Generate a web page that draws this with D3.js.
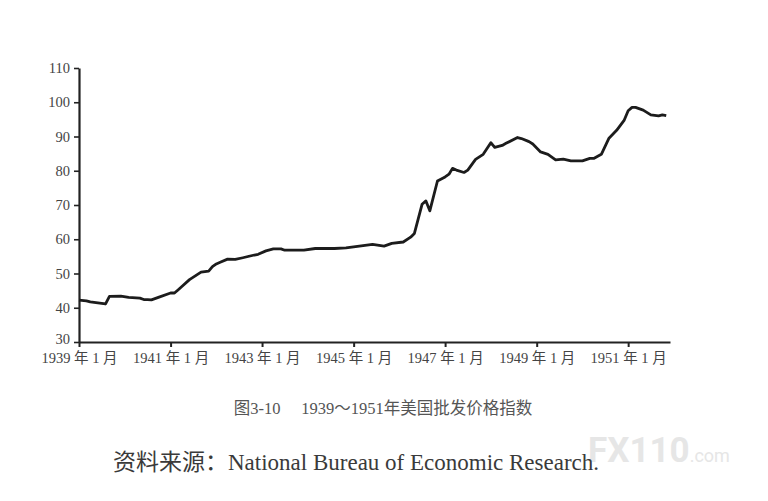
<!DOCTYPE html>
<html lang="zh">
<head>
  <meta charset="utf-8">
  <title>1939～1951年美国批发价格指数</title>
  <script src="https://d3js.org/d3.v7.min.js"></script>
  <style>
    body { margin: 0; background: #fff; }
    svg { display: block; }
    .axis path, .axis line { stroke: #222; }
    .axis text { font-family: "Liberation Serif", "Noto Sans CJK SC", serif; font-size: 14.5px; fill: #444; }
    path.index { fill: none; stroke: #1c1c1c; stroke-width: 2.8; stroke-linejoin: round; }
  </style>
</head>
<body>
  <div id="chart"></div>
  <script>
    // month (YYYY-MM) and index value
    var months = [
      "1939-01", "1939-03", "1939-04", "1939-07", "1939-08", "1939-09", "1939-12",
      "1940-02", "1940-05", "1940-06", "1940-07", "1940-08", "1940-10",
      "1941-01", "1941-02", "1941-03", "1941-04", "1941-06", "1941-09", "1941-11", "1941-12",
      "1942-01", "1942-02", "1942-04", "1942-06", "1942-08", "1942-11", "1942-12",
      "1943-02", "1943-04", "1943-06", "1943-07", "1943-12",
      "1944-03", "1944-08", "1944-11",
      "1945-01", "1945-06", "1945-09", "1945-11",
      "1946-02", "1946-04", "1946-05", "1946-06", "1946-07", "1946-08", "1946-09", "1946-11",
      "1947-01", "1947-02", "1947-03", "1947-04", "1947-06", "1947-07", "1947-09", "1947-11",
      "1948-01", "1948-02", "1948-04", "1948-05", "1948-08", "1948-09", "1948-11", "1948-12",
      "1949-02", "1949-04", "1949-06", "1949-08", "1949-10",
      "1950-01", "1950-03", "1950-04", "1950-06", "1950-08", "1950-10", "1950-12",
      "1951-01", "1951-02", "1951-03", "1951-05", "1951-07", "1951-09", "1951-10", "1951-11"
    ];
    var values = [
      42.2, 42.0, 41.7, 41.3, 41.1, 43.3, 43.4,
      43.0, 42.8, 42.4, 42.4, 42.3, 43.1,
      44.3, 44.3, 45.2, 46.2, 48.2, 50.4, 50.7, 52.0,
      52.8, 53.3, 54.2, 54.1, 54.6, 55.4, 55.6,
      56.6, 57.2, 57.2, 56.8, 56.8,
      57.3, 57.3, 57.5,
      57.8, 58.5, 58.0, 58.8,
      59.2, 60.6, 61.7, 66.0, 70.2, 71.2, 68.3, 77.0,
      78.2, 79.0, 80.7, 80.2, 79.5, 80.2, 83.3, 84.8,
      88.2, 86.8, 87.4, 88.0, 89.7, 89.4, 88.5, 87.8,
      85.5, 84.8, 83.2, 83.4, 82.9,
      82.9, 83.6, 83.6, 84.8, 89.5, 91.8, 94.8,
      97.5, 98.5, 98.5, 97.7, 96.3, 96.0, 96.3, 96.1
    ];
    var yTicks = [30, 40, 50, 60, 70, 80, 90, 100, 110];
    var xTickYears = [1939, 1941, 1943, 1945, 1947, 1949, 1951];

    var caption = "图3-10\u3000 1939～1951年美国批发价格指数";
    var source = "资料来源：National Bureau of Economic Research.";

    var W = 768, H = 501;
    var parseMonth = d3.timeParse("%Y-%m");
    var data = months.map(function (m, i) { return { date: parseMonth(m), value: values[i] }; });

    var svg = d3.select("#chart").append("svg")
      .attr("width", W)
      .attr("height", H);

    var x = d3.scaleTime()
      .domain([new Date(1939, 0, 1), new Date(1951, 11, 1)])
      .range([79, 670]);

    var y = d3.scaleLinear()
      .domain([30, 110])
      .range([342, 68]);

    // watermark sits under everything else
    var wm = svg.append("text")
      .attr("x", 588)
      .attr("y", 462)
      .attr("font-family", "Roboto, 'DejaVu Sans', sans-serif")
      .attr("font-weight", "bold")
      .attr("fill", "#e6e6e6");
    wm.append("tspan").attr("font-size", 35).text("FX110");
    wm.append("tspan").attr("font-size", 18).attr("font-weight", "normal").text(".com");

    // axes
    var xAxis = d3.axisBottom(x)
      .tickValues(xTickYears.map(function (yr) { return new Date(yr, 0, 1); }))
      .tickFormat(d3.timeFormat("%Y 年 %-m 月"))
      .tickSize(5)
      .tickSizeOuter(0)
      .tickPadding(6);

    var yAxis = d3.axisLeft(y)
      .tickValues(yTicks)
      .tickSize(5)
      .tickSizeOuter(0)
      .tickPadding(4);

    var gx = svg.append("g")
      .attr("class", "axis")
      .attr("transform", "translate(0," + y(30) + ")")
      .call(xAxis);
    gx.select(".domain").attr("stroke-width", 2.2);
    gx.selectAll(".tick line").attr("stroke-width", 2);

    var gy = svg.append("g")
      .attr("class", "axis")
      .attr("transform", "translate(" + x.range()[0] + ",0)")
      .call(yAxis);
    gy.select(".domain").attr("stroke-width", 2.2);
    gy.selectAll(".tick line").attr("stroke-width", 1.6);
    // lift the bottom label a touch so it clears the date label below it
    gy.selectAll(".tick text").filter(function (d) { return d === 30; }).attr("dy", "0.1em");

    // the index line
    var line = d3.line()
      .x(function (d) { return x(d.date); })
      .y(function (d) { return y(d.value); })
      .curve(d3.curveLinear);

    svg.append("path")
      .datum(data)
      .attr("class", "index")
      .attr("d", line);

    // caption and source
    svg.append("text")
      .attr("x", 383)
      .attr("y", 414)
      .attr("text-anchor", "middle")
      .attr("font-family", "'Liberation Serif', 'Noto Sans CJK SC', serif")
      .attr("font-size", 16.5)
      .attr("fill", "#555")
      .text(caption);

    svg.append("text")
      .attr("x", 113)
      .attr("y", 470)
      .attr("font-family", "'Liberation Serif', 'Noto Sans CJK SC', serif")
      .attr("font-size", 23)
      .attr("fill", "#3a3a3a")
      .text(source);
  </script>
</body>
</html>
